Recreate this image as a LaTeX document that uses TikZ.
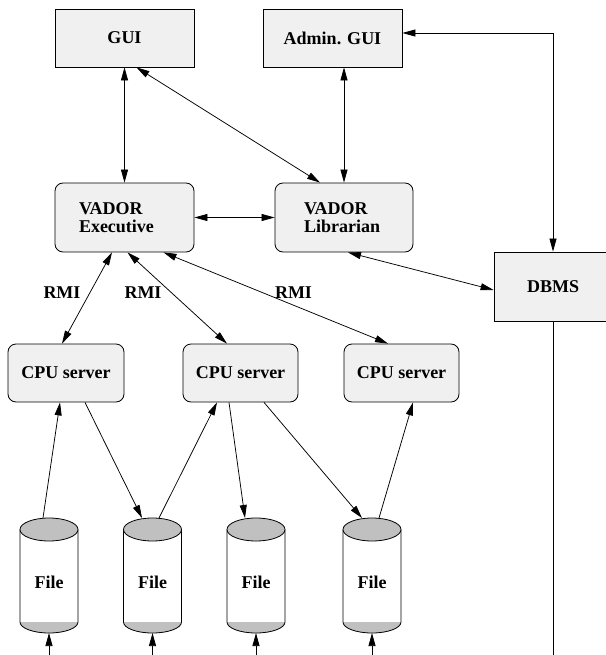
\documentclass[tikz,border=0pt]{standalone}
\usepackage{fontspec}
\setmainfont{Liberation Serif}
\usetikzlibrary{arrows.meta}

\definecolor{boxgray}{RGB}{240,240,240}
\definecolor{drumgray}{RGB}{192,192,192}

\tikzset{
  plainbox/.style={draw, fill=boxgray, line width=0.8pt, inner sep=0pt,
    font=\bfseries\fontsize{18}{17.5}\selectfont},
  roundbox/.style={plainbox, rounded corners=8pt},
  link/.style={line width=0.75pt,
    {Triangle[length=13pt,width=7pt]}-{Triangle[length=13pt,width=7pt]}},
  feed/.style={line width=0.75pt, -{Triangle[length=13pt,width=7pt]}},
  drumtext/.style={font=\bfseries\fontsize{18}{17.5}\selectfont},
}

\newcommand{\filedrum}[2]{
  \fill[drumgray] (#2-29,622)
    arc[start angle=180,end angle=360,x radius=29pt,y radius=11pt] -- cycle;
  \draw[line width=0.8pt] (#2-29,529.5) -- (#2-29,622)
    arc[start angle=180,end angle=360,x radius=29pt,y radius=11pt]
    -- (#2+29,529.5);
  \draw[line width=0.8pt, fill=drumgray] (#2,529.5)
    ellipse[x radius=29pt,y radius=11.5pt];
  \node[drumtext] (#1) at (#2,582) {File};
  \coordinate (#1top) at (#2,518);
  \coordinate (#1bot) at (#2,633);
  \coordinate (#1in) at (#2,655);
}

\begin{document}
\begin{tikzpicture}[x=1pt,y=-1pt]
  \useasboundingbox (0,0) rectangle (605,655);
  \node[plainbox, minimum width=139pt, minimum height=58pt] (gui)
    at (124.5,38) {GUI};
  \node[plainbox, minimum width=139pt, minimum height=58pt] (admin)
    at (332.5,38) {Admin. GUI};
  \node[roundbox, minimum height=69pt, inner xsep=24pt, text width=91pt,
    align=left] (exec) at (124.5,217.5) {VADOR\\Executive};
  \node[roundbox, minimum height=69pt, inner xsep=29pt, text width=80pt,
    align=left] (lib) at (344,217.5) {VADOR\\Librarian};
  \node[plainbox, minimum width=118pt, minimum height=69pt] (dbms)
    at (553,286.5) {DBMS};
  \node[roundbox, minimum width=116pt, minimum height=58pt] (cpu1)
    at (66,373) {CPU server};
  \node[roundbox, minimum width=115pt, minimum height=58pt] (cpu2)
    at (240.5,373) {CPU server};
  \node[roundbox, minimum width=115pt, minimum height=58pt] (cpu3)
    at (401.5,373) {CPU server};
  \coordinate (dbmsend) at (553,655);

  \filedrum{f1}{49}
  \filedrum{f2}{152.5}
  \filedrum{f3}{256}
  \filedrum{f4}{372}

  \draw[link] (gui.south) -- (exec.north);
  \draw[link] ([xshift=12pt]gui.south) -- ([xshift=-24pt]lib.north);
  \draw[link] (lib.north) -- (lib.north |- admin.south);
  \draw[link] (exec.east) -- (lib.west);
  \draw[link] ([yshift=5pt]admin.east) -| (dbms.north);
  \draw[link] ([xshift=4pt]lib.south) -- ([yshift=-3.5pt]dbms.west);
  \draw[line width=0.75pt] (dbms.south) -- (dbmsend);

  \draw[link] ([xshift=-12.5pt]exec.south) -- ([xshift=-4pt]cpu1.north);
  \draw[link] ([xshift=3pt]exec.south) -- ([xshift=-13.5pt]cpu2.north);
  \draw[link] ([xshift=39pt]exec.south) -- ([xshift=-13.5pt]cpu3.north);
  \node[drumtext] (rmi1) at (62,293) {RMI};
  \node[drumtext] (rmi2) at (143,293) {RMI};
  \node[drumtext] (rmi3) at (293.5,293) {RMI};

  \draw[feed] ([xshift=-6pt]f1top) -- ([xshift=-6pt]cpu1.south);
  \draw[feed] ([xshift=19pt]cpu1.south) -- ([xshift=-10.5pt]f2top);
  \draw[feed] ([xshift=6.5pt]f2top) -- ([xshift=-23.5pt]cpu2.south);
  \draw[feed] ([xshift=-11.5pt]cpu2.south) -- ([xshift=-11pt]f3top);
  \draw[feed] ([xshift=23.5pt]cpu2.south) -- ([xshift=-10pt]f4top);
  \draw[feed] ([xshift=7pt]f4top) -- ([xshift=11.5pt]cpu3.south);

  \draw[feed] (f1in) -- (f1bot);
  \draw[feed] (f2in) -- (f2bot);
  \draw[feed] (f3in) -- (f3bot);
  \draw[feed] (f4in) -- (f4bot);
\end{tikzpicture}
\end{document}
